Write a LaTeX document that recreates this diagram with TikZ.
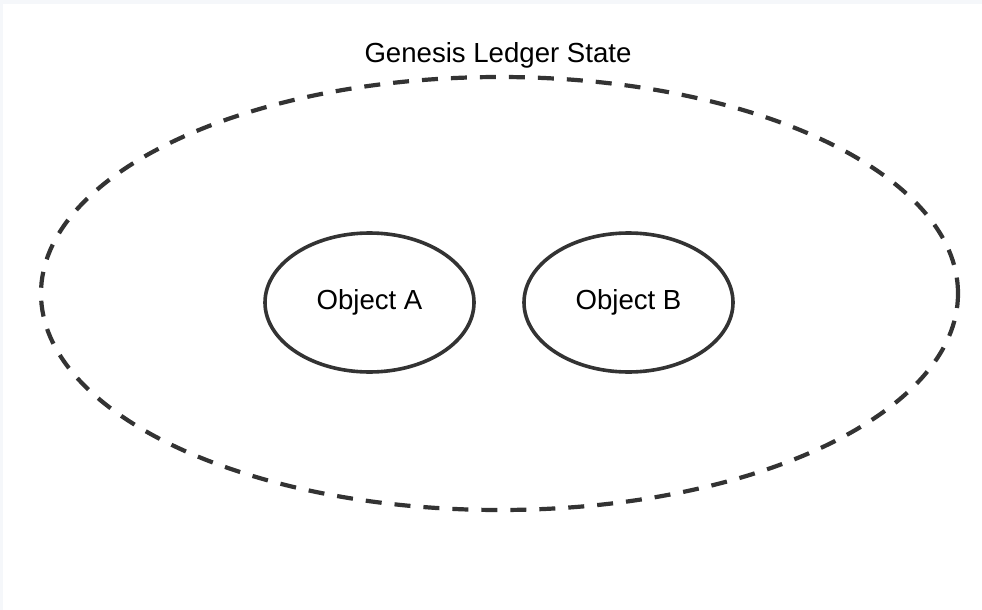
\documentclass[tikz,border=0pt]{standalone}
\usepackage{fontspec}
\setmainfont{Liberation Sans}
\usetikzlibrary{shapes.geometric}
\definecolor{inkgray}{HTML}{333333}
\definecolor{edgetint}{HTML}{F5F7FA}
\tikzset{
  labeltext/.style={font=\fontsize{27.6}{32}\selectfont, text=black, inner sep=0pt},
  groupring/.style={ellipse, draw=inkgray, line width=4.2pt, dash pattern=on 16pt off 13pt, inner sep=0pt},
  objring/.style={ellipse, draw=inkgray, line width=3.6pt, inner sep=0pt, minimum width=209pt, minimum height=139pt, labeltext}
}
\begin{document}
\begin{tikzpicture}[x=1pt, y=-1pt]
  \useasboundingbox (0,0) rectangle (982,610);
  \fill[white] (0,0) rectangle (982,610);
  \fill[edgetint] (0,0) rectangle (982,4);
  \fill[edgetint] (0,0) rectangle (3,610);

  % ledger boundary and its caption
  \node[groupring, minimum width=917pt, minimum height=433pt] (ledger) at (499.5,293.5) {};
  \node[labeltext] (caption) at (498,55.5) {Genesis Ledger State};

  % objects held in the ledger
  \node[objring] (objA) at (369.5,302.5) {Object A};
  \node[objring] (objB) at (628.5,302.5) {Object B};
\end{tikzpicture}
\end{document}
